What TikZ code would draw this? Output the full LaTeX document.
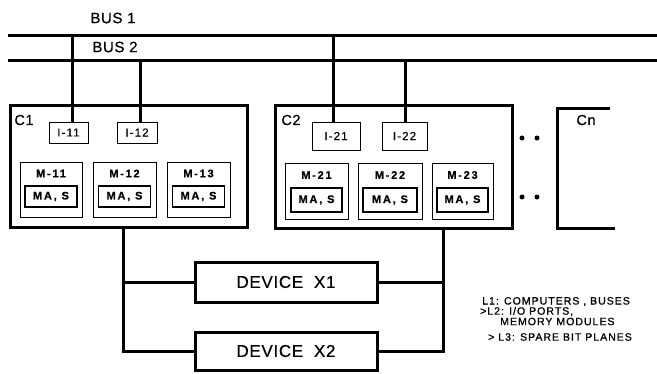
\documentclass[tikz,border=0pt]{standalone}
\usepackage{fontspec}
\setmainfont{Liberation Sans}
\newfontfamily\wsp[LetterSpace=4,FakeBold=0.6]{Liberation Sans}
\newfontfamily\wspp[LetterSpace=16,FakeBold=0.6]{Liberation Sans}
\newfontfamily\wspi[LetterSpace=10,FakeBold=0.6]{Liberation Sans}
\newfontfamily\wspl[LetterSpace=9,FakeBold=0.8]{Liberation Sans}
\usetikzlibrary{calc}
\tikzset{
  bus/.style={line width=3pt},
  wire/.style={line width=3pt},
  bigbox/.style={draw, line width=3pt, inner sep=0pt},
  smallbox/.style={draw, line width=1pt, inner sep=0pt},
  lbl/.style={inner sep=0pt},
  buslbl/.style={lbl, font=\wsp\fontsize{15}{15}\selectfont},
  clbl/.style={lbl, font=\wsp\fontsize{14.5}{14.5}\selectfont},
  ilbl/.style={lbl, font=\wspi\fontsize{11.5}{11.5}\selectfont},
  mlbl/.style={lbl, font=\wspp\bfseries\fontsize{11}{11}\selectfont},
  devlbl/.style={font=\wsp\fontsize{17}{17}\selectfont},
  leg/.style={lbl, anchor=west, font=\wspl\fontsize{10.6}{10.6}\selectfont},
  dot/.style={circle, fill, inner sep=0pt, minimum size=5pt}
}
\begin{document}
\begin{tikzpicture}[x=1pt,y=-1pt]
\useasboundingbox (0,0) rectangle (657,373);
% buses
\node[buslbl] (bus1t) at (113,18) {BUS 1};
\node[buslbl] (bus2t) at (115,47) {BUS 2};
\coordinate (b1L) at (8,35); \coordinate (b1R) at (657,35);
\coordinate (b2L) at (8,60); \coordinate (b2R) at (657,60);
\draw[bus] (b1L) -- (b1R);
\draw[bus] (b2L) -- (b2R);
% computers
\node[bigbox, minimum width=237pt, minimum height=122pt] (C1) at (128.5,166) {};
\node[bigbox, minimum width=237pt, minimum height=123pt] (C2) at (393.5,166.5) {};
\node[clbl] (C1t) at (24,120) {C1};
\node[clbl] (C2t) at (291,120) {C2};
% I/O ports
\node[smallbox, minimum width=39pt, minimum height=21pt, ilbl] (I11) at (68.5,132.5) {I-11};
\node[smallbox, minimum width=40pt, minimum height=21pt, ilbl] (I12) at (137,132.5) {I-12};
\node[smallbox, minimum width=48pt, minimum height=28pt, ilbl] (I21) at (336,136) {I-21};
\node[smallbox, minimum width=45pt, minimum height=28pt, ilbl] (I22) at (404.5,136) {I-22};
% memory modules
\foreach \n/\x/\w/\iw in {11/51/62/52, 12/124.5/63/52, 13/198.5/63/52}{
  \node[smallbox, minimum width=\w pt, minimum height=55pt] (M\n) at (\x,189.5) {};
  \node[smallbox, line width=1.3pt, minimum width=\iw pt, minimum height=21pt, mlbl] (MA\n) at (\x,196.5) {MA\,, S};
  \node[mlbl] (M\n t) at (\x,173.5) {M-\n};
}
\foreach \n/\x/\w/\iw in {21/316.5/63/51, 22/390/64/54, 23/462.5/61/51}{
  \node[smallbox, minimum width=\w pt, minimum height=56pt] (M\n) at (\x,191) {};
  \node[smallbox, line width=1.3pt, minimum width=\iw pt, minimum height=24pt, mlbl] (MA\n) at (\x,200) {MA\,, S};
  \node[mlbl] (M\n t) at (\x,175) {M-\n};
}
% bus taps
\coordinate (t11) at (72,35);
\coordinate (t12) at (140,60);
\coordinate (t21) at (333,35);
\coordinate (t22) at (405,60);
\draw[wire] (t11) -- (t11 |- I11.north);
\draw[wire] (t12) -- (t12 |- I12.north);
\draw[wire] (t21) -- (t21 |- I21.north);
\draw[wire] (t22) -- (t22 |- I22.north);
% dots
\node[dot] (d1) at (522,138) {};
\node[dot] (d2) at (537,138) {};
\node[dot] (d3) at (522,197) {};
\node[dot] (d4) at (537,197) {};
% Cn bracket
\coordinate (cn1) at (610,108);
\coordinate (cn2) at (557,108);
\coordinate (cn3) at (557,228);
\coordinate (cn4) at (615,228);
\draw[wire] (cn1) -- (cn2) -- (cn3) -- (cn4);
\node[clbl] (Cnt) at (586,120) {Cn};
% devices
\node[bigbox, minimum width=182pt, minimum height=40pt, devlbl] (X1) at (286,282) {DEVICE\ \ X1};
\node[bigbox, minimum width=182pt, minimum height=38pt, devlbl] (X2) at (286,351) {DEVICE\ \ X2};
\coordinate (xl) at (123,0);
\coordinate (xr) at (443,0);
\draw[wire] (C1.south -| xl) |- (X2.west);
\draw[wire] (X1.west -| xl) -- (X1.west);
\draw[wire] (C2.south -| xr) |- (X2.east);
\draw[wire] (X1.east -| xr) -- (X1.east);
% legend
\node[leg] (L1) at (482,301.5) {L1: COMPUTERS , BUSES};
\node[leg] (L2) at (480,311.5) {>L2: I/O PORTS,};
\node[leg] (L2b) at (500,321.5) {MEMORY MODULES};
\node[leg] (L3) at (488,337) {> L3: SPARE BIT PLANES};
\end{tikzpicture}
\end{document}
